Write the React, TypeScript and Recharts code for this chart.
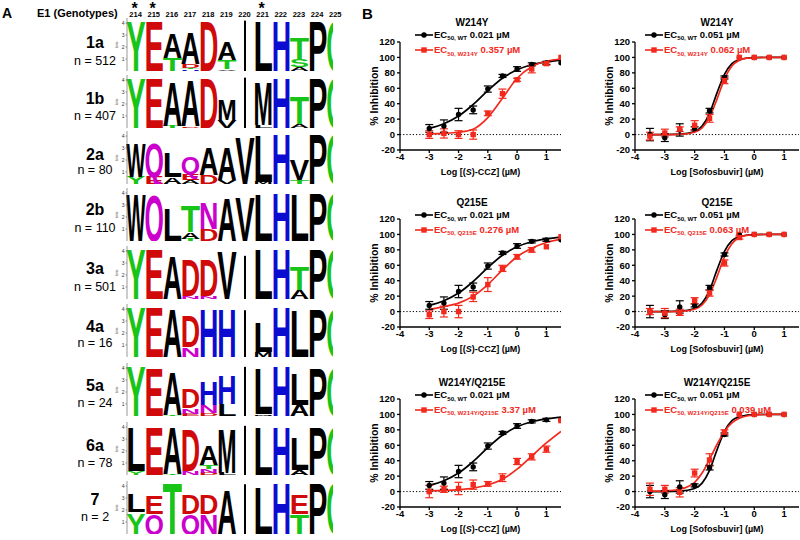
import { BarChart, Bar, XAxis, YAxis, ComposedChart, Line, Scatter, ErrorBar, ReferenceLine } from 'recharts'

const FONT = '"Liberation Sans", Arial, Helvetica, sans-serif'
const RED = '#f2291c'
const AA_GREEN = '#17c417'
const AA_RED = '#d00a0a'
const AA_BLUE = '#0c0cd0'
const AA_PURPLE = '#cc00cc'

// ---------- panel A: E1 sequence logos ----------
const LOGO_POSITIONS = ['214', '215', '216', '217', '218', '219', '220', '221', '222', '223', '224', '225']
const STARRED_POSITIONS = ['214', '215', '221']
const GENOTYPES = ['1a', '1b', '2a', '2b', '3a', '4a', '5a', '6a', '7']
const SEQ_COUNTS = [512, 407, 80, 110, 501, 16, 24, 78, 2]
const BIT_TICKS = [0, 1, 2, 3, 4]

// each column: letters bottom -> top, height in bits ('|' = gap column)
type Stack = [string, number][]
const LOGO_1A: Stack[] = [
  [['Y', 4.15]], [['E', 4.15]], [['T', 1.05], ['A', 2.1]], [['H', 0.15], ['T', 0.1], ['D', 0.3], ['A', 2.6]],
  [['D', 4.15]], [['V', 0.15], ['T', 0.75], ['A', 1.5]], [['|', 4.2]], [['L', 4.15]],
  [['H', 4.15]], [['A', 0.3], ['S', 0.65], ['T', 1.9]], [['P', 4.15]], [['G', 4.15]],
]
const LOGO_1B: Stack[] = [
  [['Y', 4.15]], [['E', 4.15]], [['T', 0.2], ['A', 3.8]], [['D', 0.15], ['A', 3.85]],
  [['D', 4.15]], [['V', 0.7], ['M', 1.8]], [['|', 4.2]], [['L', 0.25], ['M', 3.6]],
  [['H', 4.15]], [['A', 0.3], ['T', 2.3]], [['P', 4.15]], [['G', 4.15]],
]
const LOGO_2A: Stack[] = [
  [['Y', 0.6], ['W', 2.9]], [['E', 0.6], ['Q', 2.9]], [['A', 0.55], ['L', 2.1]], [['A', 0.3], ['E', 0.55], ['Q', 1.4]],
  [['D', 0.75], ['A', 2.35]], [['V', 0.3], ['A', 2.8]], [['V', 3.95]], [['M', 0.2], ['L', 3.95]],
  [['H', 4.15]], [['T', 0.35], ['V', 1.8]], [['P', 4.15]], [['G', 4.15]],
]
const LOGO_2B: Stack[] = [
  [['W', 3.95]], [['Q', 3.9]], [['L', 2.8]], [['T', 0.2], ['A', 0.55], ['T', 2.2]],
  [['D', 1.0], ['N', 2.2]], [['A', 3.65]], [['V', 3.8]], [['L', 3.95]],
  [['H', 4.1]], [['L', 3.95]], [['P', 4.1]], [['G', 4.1]],
]
const LOGO_3A: Stack[] = [
  [['Y', 4.15]], [['E', 4.15]], [['A', 3.6]], [['N', 0.25], ['D', 3.05]],
  [['N', 0.25], ['D', 3.05]], [['V', 4.1]], [['|', 3.6]], [['L', 4.15]],
  [['H', 4.15]], [['A', 0.75], ['T', 2.0]], [['P', 4.15]], [['G', 4.15]],
]
const LOGO_4A: Stack[] = [
  [['Y', 4.15]], [['E', 4.15]], [['A', 4.1]], [['N', 0.8], ['D', 2.65]],
  [['H', 4.1]], [['H', 4.1]], [['|', 3.9]], [['M', 0.4], ['L', 2.5]],
  [['H', 4.15]], [['L', 4.0]], [['P', 4.1]], [['G', 4.1]],
]
const LOGO_5A: Stack[] = [
  [['Y', 4.15]], [['E', 4.1]], [['T', 0.1], ['A', 3.6]], [['E', 0.2], ['N', 0.45], ['D', 1.7]],
  [['D', 0.25], ['N', 0.7], ['H', 1.95]], [['L', 1.0], ['H', 2.45]], [['|', 4.1]], [['M', 0.15], ['L', 3.9]],
  [['H', 4.15]], [['A', 0.95], ['L', 2.6]], [['P', 4.1]], [['G', 4.1]],
]
const LOGO_6A: Stack[] = [
  [['Y', 0.35], ['L', 3.75]], [['E', 4.1]], [['T', 0.1], ['A', 3.95]], [['N', 0.3], ['D', 3.5]],
  [['D', 0.2], ['N', 0.3], ['T', 0.3], ['A', 1.65]], [['L', 0.2], ['M', 3.75]], [['|', 4.1]], [['L', 4.1]],
  [['H', 4.1]], [['A', 0.45], ['L', 2.8]], [['P', 4.1]], [['G', 4.1]],
]
const LOGO_7: Stack[] = [
  [['Y', 1.8], ['L', 1.5]], [['Q', 1.65], ['E', 1.55]], [['T', 4.35]], [['Q', 1.65], ['D', 1.65]],
  [['N', 1.65], ['D', 1.65]], [['A', 3.75]], [['|', 4.15]], [['L', 4.0]],
  [['H', 4.3]], [['T', 1.65], ['E', 1.65]], [['P', 4.3]], [['G', 4.3]],
]
const LOGOS = [LOGO_1A, LOGO_1B, LOGO_2A, LOGO_2B, LOGO_3A, LOGO_4A, LOGO_5A, LOGO_6A, LOGO_7]

// ---------- panel B: dose response ----------
const CCZ_DOSES = [-3, -2.5, -2, -1.5, -1, -0.5, 0, 0.5, 1, 1.5]
const WT_CCZ = [8, 11, 26, 32, 59, 76, 85, 91, 93, 93]
const WT_CCZ_SD = [5, 8, 8, 5, 4, 2, 3, 2, 2, 0]
const W214Y_CCZ = [0, 1.5, 0, 0, 27.5, 53, 71, 85, 92, 100]
const W214Y_CCZ_SD = [5, 6, 5, 6, 3, 6, 2, 5, 2, 0]
const Q215E_CCZ = [-4, 0, 0, 19, 35, 56, 71, 80, 84, 97]
const Q215E_CCZ_SD = [5, 7, 8, 6, 9, 4, 3, 3, 0, 0]
const DM_CCZ = [0, 3, 4, 9, 10, 18, 39, 45, 55, 92]
const DM_CCZ_SD = [8, 4, 8, 6, 3, 5, 4, 4, 4, 0]

const SOF_DOSES = [-3.5, -3, -2.5, -2, -1.5, -1, -0.5, 0, 0.5, 1]
const WT_SOF = [0, -4, 6, 8, 31, 74, 100, 100, 100, 100]
const WT_SOF_SD = [8, 5, 8, 2, 3, 2, 0, 0, 0, 0]
const W214Y_SOF = [-2, 2, 7, 12, 21, 70, 100, 100, 100, 100]
const W214Y_SOF_SD = [5, 5, 3, 6, 5, 4, 0, 0, 0, 0]
const Q215E_SOF = [0, -2, -1, 14, 24, 63, 96, 100, 100, 100]
const Q215E_SOF_SD = [4, 6, 4, 4, 4, 4, 2, 0, 0, 0]
const DM_SOF = [3, 3, -1, 24, 41, 77, 100, 100, 100, 100]
const DM_SOF_SD = [8, 5, 6, 5, 8, 3, 0, 0, 0, 0]

// fitted curves
const CCZ_FIT_X = [-3, -2.5, -2, -1.5, -1, -0.5, 0, 0.5, 1, 1.5]
const WT_CCZ_FIT = [8, 14, 24, 39, 57, 73, 84, 90.5, 94, 96.5]
const W214Y_CCZ_FIT = [1, 1.5, 3, 7, 22, 47, 73, 88, 95, 98]
const Q215E_CCZ_FIT = [3, 6.5, 11, 20, 35, 54, 71, 82, 89.5, 94]
const DM_CCZ_FIT = [1, 1.5, 2.5, 4.5, 8.5, 16, 29, 46, 63, 78]

const SOF_FIT_X = [-3.5, -3, -2.5, -2, -1.75, -1.5, -1.25, -1, -0.75, -0.5, -0.25, 0, 0.5, 1]
const WT_SOF_FIT = [0, 0, 0.5, 4, 11, 27.5, 54, 78, 92, 97, 99, 99.7, 100, 100]
const W214Y_SOF_FIT = [0, 0, 0.3, 3, 8.5, 22.5, 46, 72, 89, 96.5, 99, 99.6, 100, 100]
const Q215E_SOF_FIT = [0, 0, 0.3, 3, 8.5, 22, 45, 71, 88, 96, 98.8, 99.6, 100, 100]
const DM_SOF_FIT = [0.5, 1, 3, 12, 24, 42, 61, 78, 89, 95, 98, 99.3, 100, 100]

const X_TICKS = [-4, -3, -2, -1, 0, 1]
const Y_TICKS = [-20, 0, 20, 40, 60, 80, 100, 120]

const LETTER_COLORS: Record<string, string> = {
  Y: AA_GREEN, T: AA_GREEN, S: AA_GREEN, G: AA_GREEN,
  E: AA_RED, D: AA_RED, H: AA_BLUE, Q: AA_PURPLE, N: AA_PURPLE,
}

function logoData(stacks: Stack[]) {
  return stacks.map((stack, i) => {
    const row: Record<string, string | number> = { pos: LOGO_POSITIONS[i] }
    for (let k = 0; k < 4; k++) {
      row[`s${k}`] = stack[k]?.[1] ?? 0
      row[`l${k}`] = stack[k]?.[0] ?? ''
    }
    return row
  })
}

// letter stretched to fill its stack segment (side bearings pushed out a little)
// eslint-disable-next-line @typescript-eslint/no-explicit-any
const Glyph = (props: any) => {
  const { x, y, width, height, seg } = props
  const letter = props.payload?.[`l${seg}`] ?? props[`l${seg}`]
  if (!letter || !(height > 0.3)) return <g />
  if (letter === '|') return <rect x={x + width / 2 - 1} y={y} width={2} height={height} fill="#000" />
  const pad = width * 0.07
  return (
    <g transform={`translate(${x} ${y + height}) scale(1 ${height / 71.6})`}>
      <text x={-pad} y={0} fontSize={100} fontFamily={FONT} fontWeight={700} fill={LETTER_COLORS[letter] ?? '#000'}
        textLength={width + pad * 2} lengthAdjust="spacingAndGlyphs">{letter}</text>
    </g>
  )
}

const LOGO_TOPS = [18, 75, 131, 188, 246, 304, 363, 422, 481]
const LABEL_Y = [43, 99, 155, 210, 269, 327, 386, 446, 500]
const COUNT_Y = [61, 116, 170, 228, 287, 343, 403, 463, 517]
const COL_W = 18.15
const LOGO_X0 = 126.5

function LogoRow({ stacks, top }: { stacks: Stack[]; top: number }) {
  return (
    <div style={{ position: 'absolute', left: 112.5, top, width: 220.5, height: 53, overflow: 'hidden' }}>
      <BarChart width={232} height={53} data={logoData(stacks)} margin={{ top: 0, right: 0, bottom: 0, left: 0 }} barCategoryGap={0.5}>
        <XAxis dataKey="pos" hide />
        <YAxis type="number" domain={[0, 4.42]} ticks={BIT_TICKS} width={14} allowDataOverflow
          tick={{ fontSize: 5, fill: '#333', fontFamily: FONT }} tickSize={1.5} tickMargin={1}
          axisLine={{ stroke: '#555', strokeWidth: 0.6 }} tickLine={{ stroke: '#555', strokeWidth: 0.6 }}
          label={{
            // eslint-disable-next-line @typescript-eslint/no-explicit-any
            content: (p: any) => {
              const cx = p.viewBox.x + 3.5, cy = p.viewBox.y + p.viewBox.height / 2
              return <text x={cx} y={cy} fontSize={4} fill="#333" fontFamily={FONT} textAnchor="middle" dominantBaseline="central" transform={`rotate(-90 ${cx} ${cy})`}>bits</text>
            },
          }} />
        {[0, 1, 2, 3].map(k => (
          // eslint-disable-next-line @typescript-eslint/no-explicit-any
          <Bar key={k} dataKey={`s${k}`} stackId="bits" isAnimationActive={false} shape={(p: any) => <Glyph {...p} seg={k} />} />
        ))}
      </BarChart>
    </div>
  )
}

function Txt({ x, y, size, children, bold = true, color = '#000', anchor = 'middle' }:
  { x: number; y: number; size: number; children: React.ReactNode; bold?: boolean; color?: string; anchor?: 'start' | 'middle' | 'end' }) {
  const tx = anchor === 'middle' ? '-50%' : anchor === 'end' ? '-100%' : '0'
  return (
    <div style={{ position: 'absolute', left: x, top: y, transform: `translate(${tx},-50%)`, fontSize: size, fontWeight: bold ? 700 : 400, color, fontFamily: FONT, whiteSpace: 'nowrap', lineHeight: 1 }}>
      {children}
    </div>
  )
}

// ---------- dose response chart ----------
const pts = (xs: number[], ys: number[], sd: number[]) => xs.map((x, i) => ({ x, y: ys[i], sd: sd[i] }))
const fit = (xs: number[], ys: number[]) => xs.map((x, i) => ({ x, y: ys[i] }))

// eslint-disable-next-line @typescript-eslint/no-explicit-any
const BlackDot = (p: any) => <circle cx={p.cx} cy={p.cy} r={2.7} fill="#000" />
// eslint-disable-next-line @typescript-eslint/no-explicit-any
const RedSquare = (p: any) => <rect x={p.cx - 2.7} y={p.cy - 2.7} width={5.4} height={5.4} fill={RED} />

const ROW_PLOT_TOP = [42.3, 219, 399]
const ROW_TITLE_Y = [23, 203, 383]
const ROW_LEG_Y = [[34.5, 50], [215, 229.5], [395, 409.5]]
const COLS = [
  { left: 355, width: 211, mr: 5, titleX: 472, lineX: 415 },
  { left: 590, width: 210, mr: 1, titleX: 717, lineX: 645 },
]
const TICK = { fill: '#000', fontSize: 9.5, fontWeight: 700, fontFamily: FONT }

interface DoseProps {
  row: number; col: number; title: string; drug: 'ccz' | 'sof'; mutName: string
  wtEc: string; mutEc: string
  doses: number[]; wt: number[]; wtSd: number[]; mut: number[]; mutSd: number[]
  fitX: number[]; wtFit: number[]; mutFit: number[]
}

function LegendEntry({ x, y, color, square, sub, value }: { x: number; y: number; color: string; square: boolean; sub: string; value: string }) {
  return (
    <>
      <svg style={{ position: 'absolute', left: x, top: y - 4 }} width={18} height={8}>
        <line x1={0} x2={18} y1={4} y2={4} stroke={color} strokeWidth={1.6} />
        {square ? <rect x={6.3} y={1.3} width={5.4} height={5.4} fill={color} /> : <circle cx={9} cy={4} r={2.7} fill={color} />}
      </svg>
      <Txt x={x + 19} y={y} size={9.5} anchor="start" color={color}>
        EC<span style={{ fontSize: 6.2, position: 'relative', top: 2.5 }}>{sub}</span> {value}
      </Txt>
    </>
  )
}

function DoseChart(p: DoseProps) {
  const c = COLS[p.col]
  const top = ROW_PLOT_TOP[p.row] - 42
  const [ly1, ly2] = ROW_LEG_Y[p.row]
  return (
    <>
      <div style={{ position: 'absolute', left: c.left, top }}>
        <ComposedChart width={c.width} height={180} margin={{ top: 42, right: c.mr, bottom: 0, left: 0 }}>
          <XAxis type="number" dataKey="x" domain={[-4, 1.5]} ticks={X_TICKS} allowDataOverflow height={30}
            tick={TICK} tickSize={3} tickMargin={0}
            axisLine={{ stroke: '#000', strokeWidth: 1.3 }} tickLine={{ stroke: '#000', strokeWidth: 1.3 }}
            label={{
              // eslint-disable-next-line @typescript-eslint/no-explicit-any
              content: (lp: any) => (
                <text x={lp.viewBox.x + lp.viewBox.width / 2} y={lp.viewBox.y + 22} textAnchor="middle" dominantBaseline="central"
                  fontSize={9} fontWeight={700} fontFamily={FONT} fill="#000">
                  {p.drug === 'ccz'
                    ? <>Log [(<tspan fontStyle="italic">S</tspan>)-CCZ] (µM)</>
                    : 'Log [Sofosbuvir] (µM)'}
                </text>
              ),
            }} />
          <YAxis type="number" domain={[-20, 120]} ticks={Y_TICKS} allowDataOverflow width={45}
            tick={TICK} tickSize={3}
            axisLine={{ stroke: '#000', strokeWidth: 1.3 }} tickLine={{ stroke: '#000', strokeWidth: 1.3 }}
            label={{
              // eslint-disable-next-line @typescript-eslint/no-explicit-any
              content: (lp: any) => {
                const cx = lp.viewBox.x + 18.5, cy = lp.viewBox.y + lp.viewBox.height / 2
                return <text x={cx} y={cy} textAnchor="middle" dominantBaseline="central" transform={`rotate(-90 ${cx} ${cy})`}
                  fontSize={10.5} fontWeight={700} fontFamily={FONT} fill="#000">% Inhibition</text>
              },
            }} />
          <ReferenceLine y={0} stroke="#000" strokeWidth={1} strokeDasharray="1.2 2" />
          <Line data={fit(p.fitX, p.wtFit)} dataKey="y" type="monotone" stroke="#000" strokeWidth={1.7} dot={false} isAnimationActive={false} />
          <Line data={fit(p.fitX, p.mutFit)} dataKey="y" type="monotone" stroke={RED} strokeWidth={1.7} dot={false} isAnimationActive={false} />
          <Scatter data={pts(p.doses, p.wt, p.wtSd)} dataKey="y" shape={BlackDot} isAnimationActive={false}>
            <ErrorBar dataKey="sd" direction="y" width={4} stroke="#000" strokeWidth={1.2} />
          </Scatter>
          <Scatter data={pts(p.doses, p.mut, p.mutSd)} dataKey="y" shape={RedSquare} isAnimationActive={false}>
            <ErrorBar dataKey="sd" direction="y" width={4} stroke={RED} strokeWidth={1.2} />
          </Scatter>
        </ComposedChart>
      </div>
      <Txt x={c.titleX} y={ROW_TITLE_Y[p.row]} size={10}>{p.title}</Txt>
      <LegendEntry x={c.lineX} y={ly1} color="#000" square={false} sub="50, WT" value={`${p.wtEc} µM`} />
      <LegendEntry x={c.lineX} y={ly2} color={RED} square sub={`50, ${p.mutName}`} value={`${p.mutEc} µM`} />
    </>
  )
}

export default function App() {
  return (
    <div style={{ position: 'absolute', left: 0, top: 0, width: 800, height: 540, background: '#fff', overflow: 'hidden', fontFamily: FONT }}>
      {/* panel A */}
      <Txt x={2} y={12.5} size={14} anchor="start">A</Txt>
      <Txt x={37} y={12.7} size={11} anchor="start">E1 (Genotypes)</Txt>
      {LOGO_POSITIONS.map((pos, i) => (
        <Txt key={pos} x={LOGO_X0 + COL_W * (i + 0.5)} y={14.6} size={7.5}>{pos}</Txt>
      ))}
      {STARRED_POSITIONS.map(pos => (
        <Txt key={pos} x={LOGO_X0 + COL_W * (LOGO_POSITIONS.indexOf(pos) + 0.5) - 1} y={9} size={16}>*</Txt>
      ))}
      {GENOTYPES.map((g, i) => (
        <div key={g}>
          <Txt x={95} y={LABEL_Y[i]} size={16}>{g}</Txt>
          <Txt x={95} y={COUNT_Y[i]} size={12.5} bold={false}>n = {SEQ_COUNTS[i]}</Txt>
          <LogoRow stacks={LOGOS[i]} top={LOGO_TOPS[i]} />
        </div>
      ))}

      {/* panel B */}
      <Txt x={362} y={12.5} size={15} anchor="start">B</Txt>
      <DoseChart row={0} col={0} title="W214Y" drug="ccz" mutName="W214Y" wtEc="0.021" mutEc="0.357"
        doses={CCZ_DOSES} wt={WT_CCZ} wtSd={WT_CCZ_SD} mut={W214Y_CCZ} mutSd={W214Y_CCZ_SD}
        fitX={CCZ_FIT_X} wtFit={WT_CCZ_FIT} mutFit={W214Y_CCZ_FIT} />
      <DoseChart row={0} col={1} title="W214Y" drug="sof" mutName="W214Y" wtEc="0.051" mutEc="0.062"
        doses={SOF_DOSES} wt={WT_SOF} wtSd={WT_SOF_SD} mut={W214Y_SOF} mutSd={W214Y_SOF_SD}
        fitX={SOF_FIT_X} wtFit={WT_SOF_FIT} mutFit={W214Y_SOF_FIT} />
      <DoseChart row={1} col={0} title="Q215E" drug="ccz" mutName="Q215E" wtEc="0.021" mutEc="0.276"
        doses={CCZ_DOSES} wt={WT_CCZ} wtSd={WT_CCZ_SD} mut={Q215E_CCZ} mutSd={Q215E_CCZ_SD}
        fitX={CCZ_FIT_X} wtFit={WT_CCZ_FIT} mutFit={Q215E_CCZ_FIT} />
      <DoseChart row={1} col={1} title="Q215E" drug="sof" mutName="Q215E" wtEc="0.051" mutEc="0.063"
        doses={SOF_DOSES} wt={WT_SOF} wtSd={WT_SOF_SD} mut={Q215E_SOF} mutSd={Q215E_SOF_SD}
        fitX={SOF_FIT_X} wtFit={WT_SOF_FIT} mutFit={Q215E_SOF_FIT} />
      <DoseChart row={2} col={0} title="W214Y/Q215E" drug="ccz" mutName="W214Y/Q215E" wtEc="0.021" mutEc="3.37"
        doses={CCZ_DOSES} wt={WT_CCZ} wtSd={WT_CCZ_SD} mut={DM_CCZ} mutSd={DM_CCZ_SD}
        fitX={CCZ_FIT_X} wtFit={WT_CCZ_FIT} mutFit={DM_CCZ_FIT} />
      <DoseChart row={2} col={1} title="W214Y/Q215E" drug="sof" mutName="W214Y/Q215E" wtEc="0.051" mutEc="0.039"
        doses={SOF_DOSES} wt={WT_SOF} wtSd={WT_SOF_SD} mut={DM_SOF} mutSd={DM_SOF_SD}
        fitX={SOF_FIT_X} wtFit={WT_SOF_FIT} mutFit={DM_SOF_FIT} />
    </div>
  )
}
